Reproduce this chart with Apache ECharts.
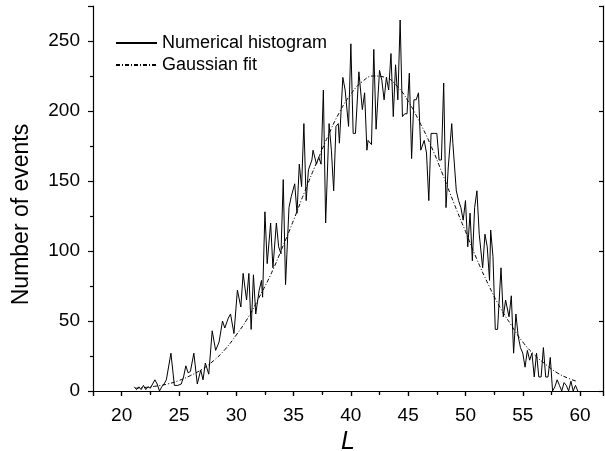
<!DOCTYPE html>
<html>
<head>
<meta charset="utf-8">
<script src="https://cdn.jsdelivr.net/npm/echarts@6/dist/echarts.min.js"></script>
<style>html,body{margin:0;padding:0;background:#fff;}#c{width:605px;height:451px;}</style>
</head>
<body>
<div id="c"></div>
<script>
// Numerical histogram (L, number of events)
var histL = [21.1,21.3,21.5,21.7,21.9,22.1,22.3,22.5,22.7,22.9,23.1,23.3,23.5,23.7,23.9,24.0,24.3,24.6,24.9,25.2,25.4,25.6,25.8,26.0,26.3,26.6,26.9,27.1,27.3,27.6,27.9,28.2,28.5,28.8,29.0,29.3,29.5,29.8,30.1,30.4,30.6,30.9,31.1,31.3,31.5,31.7,32.0,32.2,32.3,32.5,32.7,33.0,33.2,33.5,33.7,33.9,34.1,34.3,34.6,34.8,35.1,35.3,35.5,35.7,35.9,36.1,36.3,36.6,36.7,37.0,37.2,37.4,37.6,37.8,38.1,38.3,38.5,38.7,38.9,39.0,39.3,39.5,39.8,40.0,40.2,40.4,40.7,41.0,41.2,41.4,41.5,41.8,42.0,42.2,42.5,42.7,42.9,43.1,43.3,43.5,43.7,43.9,44.1,44.3,44.5,44.7,44.9,45.1,45.3,45.5,45.7,45.9,46.1,46.4,46.6,46.8,47.0,47.3,47.5,47.7,47.9,48.1,48.3,48.5,48.8,48.9,49.2,49.4,49.6,49.8,50.0,50.2,50.4,50.6,50.8,51.0,51.2,51.5,51.7,51.9,52.1,52.2,52.4,52.6,52.8,53.1,53.3,53.5,53.8,54.0,54.2,54.4,54.6,54.8,55.0,55.2,55.4,55.6,55.8,56.0,56.2,56.4,56.6,56.8,57.0,57.2,57.4,57.6,57.8,58.0,58.2,58.4,58.6,58.8,59.0,59.2,59.4,59.6,59.8];
var histN = [3,1,3,1,4,1,3,2,5,8,5,0,3,5,8,7,27,4,4,5,10,18,13,14,27,5,15,8,20,12,43,29,35,50,45,52,55,41,72,60,84,65,84,44,83,55,72,79,67,128,91,120,88,120,103,98,151,76,131,139,148,127,162,146,191,136,158,165,172,162,167,162,215,120,191,172,143,189,191,177,224,215,189,248,184,184,228,201,213,172,179,176,244,187,229,222,208,224,215,241,196,233,208,265,196,198,198,227,166,208,208,213,172,179,170,136,184,184,184,165,165,220,131,160,191,177,143,136,131,122,136,103,127,93,131,143,112,88,112,103,79,115,96,44,44,88,53,65,53,68,27,55,39,31,27,17,29,22,27,10,27,10,10,31,10,10,24,0,3,8,4,0,6,4,0,7,0,4,0];
// Gaussian fit curve
var fitL = [21.2,22,23,24,25,26,27,28,29,30,31,32,33,34,35,36,37,38,39,40,41,42,43,44,45,46,47,48,49,50,51,52,53,54,55,56,57,58,59,59.8];
var fitN = [2,2.5,3.5,5,7.5,11,15.5,21.5,29.5,40,52,67,83,102,122,143,163,182,199,212,221,225,224,218,207,192,175,155,134,114,94,76,60,47,35,26,19,13,9,6.7];
var seriesNames = ['Numerical histogram', 'Gaussian fit'];
var xName = 'L';
var yName = 'Number of events';

function zip(a, b) { return a.map(function (v, i) { return [v, b[i]]; }); }

var FONT = 'Liberation Sans, Arial, sans-serif';
var axisLineStyle = { lineStyle: { color: '#000', width: 1.2 } };

var chart = echarts.init(document.getElementById('c'), null, { renderer: 'canvas' });
chart.setOption({
  animation: false,
  backgroundColor: '#fff',
  grid: { left: 93, right: 2, top: 6, bottom: 60, containLabel: false, outerBoundsMode: 'none' },
  legend: {
    data: seriesNames,
    orient: 'vertical',
    left: 115, top: 34,
    padding: 0,
    itemWidth: 41, itemHeight: 14, itemGap: 4,
    itemStyle: { opacity: 0 },
    textStyle: { fontFamily: FONT, fontSize: 18, color: '#000' }
  },
  xAxis: [{
    type: 'value', position: 'bottom', min: 17.5, max: 62, splitNumber: 9,
    name: xName, nameLocation: 'middle', nameGap: 37,
    nameTextStyle: { fontFamily: FONT, fontSize: 25, fontStyle: 'italic', color: '#000' },
    axisLine: axisLineStyle,
    axisTick: { show: true, inside: false, length: 5, lineStyle: { color: '#000', width: 1.2 } },
    minorTick: { show: true, splitNumber: 2, length: 3, lineStyle: { color: '#000', width: 1.2 } },
    axisLabel: { fontFamily: FONT, fontSize: 19, color: '#000', margin: 15, showMinLabel: false, showMaxLabel: false },
    splitLine: { show: false }, minorSplitLine: { show: false }
  }, {
    type: 'value', position: 'top', min: 17.5, max: 62, splitNumber: 9,
    axisLine: axisLineStyle,
    axisTick: { show: true, inside: true, length: 5, lineStyle: { color: '#000', width: 1.2 } },
    minorTick: { show: true, splitNumber: 2, length: 4, lineStyle: { color: '#000', width: 1.2 } },
    axisLabel: { show: false },
    splitLine: { show: false }, minorSplitLine: { show: false }
  }],
  yAxis: [{
    type: 'value', position: 'left', min: 0, max: 275, interval: 50,
    name: yName, nameLocation: 'middle', nameGap: 60,
    nameTextStyle: { fontFamily: FONT, fontSize: 23, color: '#000', padding: [0, 32, 0, 0] },
    axisLine: axisLineStyle,
    axisTick: { show: true, inside: false, length: 5, lineStyle: { color: '#000', width: 1.2 } },
    minorTick: { show: true, splitNumber: 2, length: 3, lineStyle: { color: '#000', width: 1.2 } },
    axisLabel: { fontFamily: FONT, fontSize: 19, color: '#000', margin: 13, showMaxLabel: false },
    splitLine: { show: false }, minorSplitLine: { show: false }
  }, {
    type: 'value', position: 'right', min: 0, max: 275, interval: 50,
    axisLine: axisLineStyle,
    axisTick: { show: true, inside: true, length: 4, lineStyle: { color: '#000', width: 1.2 } },
    axisLabel: { show: false },
    splitLine: { show: false }
  }],
  series: [{
    name: seriesNames[0], type: 'line', xAxisIndex: 0, yAxisIndex: 0,
    data: zip(histL, histN), symbol: 'none', showSymbol: false,
    lineStyle: { color: '#000', width: 1 }, itemStyle: { color: '#000' }
  }, {
    name: seriesNames[1], type: 'line', xAxisIndex: 0, yAxisIndex: 0,
    data: zip(fitL, fitN), symbol: 'none', showSymbol: false, smooth: true,
    lineStyle: { color: '#000', width: 1, type: [4, 2, 1, 2] }, itemStyle: { color: '#000' }
  }]
});
</script>
</body>
</html>
